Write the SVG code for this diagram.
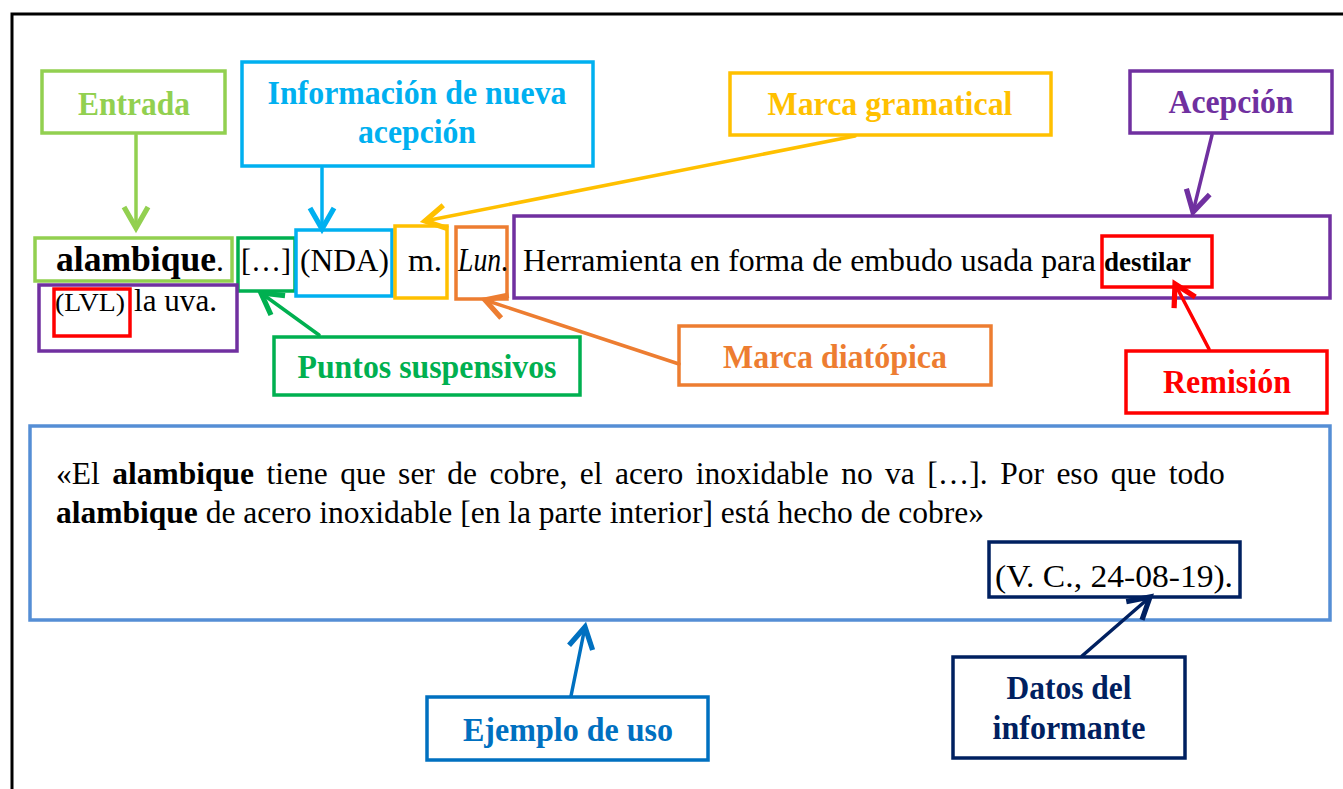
<svg xmlns="http://www.w3.org/2000/svg" width="1343" height="789" viewBox="0 0 1343 789">
<style>
.box{fill:none;stroke-width:3.5}
.lbl{font-family:"Liberation Serif","Times New Roman",serif;font-weight:bold;font-size:34px;text-anchor:middle}
.t{font-family:"Liberation Serif","Times New Roman",serif;fill:#000}
.con{fill:none;stroke-width:3.5;stroke-linecap:round}
</style>
<defs>
<marker id="mG" markerUnits="userSpaceOnUse" markerWidth="30" markerHeight="30" refX="16" refY="10" orient="auto" viewBox="0 0 20 20"><path d="M2,2 L16,10 L2,18" fill="none" stroke="#92D050" stroke-width="3.5"/></marker>
<marker id="mB" markerUnits="userSpaceOnUse" markerWidth="30" markerHeight="30" refX="16" refY="10" orient="auto" viewBox="0 0 20 20"><path d="M2,2 L16,10 L2,18" fill="none" stroke="#00B0F0" stroke-width="3.5"/></marker>
<marker id="mY" markerUnits="userSpaceOnUse" markerWidth="30" markerHeight="30" refX="16" refY="10" orient="auto" viewBox="0 0 20 20"><path d="M2,2 L16,10 L2,18" fill="none" stroke="#FFC000" stroke-width="3.5"/></marker>
<marker id="mP" markerUnits="userSpaceOnUse" markerWidth="30" markerHeight="30" refX="16" refY="10" orient="auto" viewBox="0 0 20 20"><path d="M2,2 L16,10 L2,18" fill="none" stroke="#7030A0" stroke-width="3.5"/></marker>
<marker id="mDG" markerUnits="userSpaceOnUse" markerWidth="30" markerHeight="30" refX="16" refY="10" orient="auto" viewBox="0 0 20 20"><path d="M2,2 L16,10 L2,18" fill="none" stroke="#00B050" stroke-width="3.5"/></marker>
<marker id="mO" markerUnits="userSpaceOnUse" markerWidth="30" markerHeight="30" refX="16" refY="10" orient="auto" viewBox="0 0 20 20"><path d="M2,2 L16,10 L2,18" fill="none" stroke="#ED7D31" stroke-width="3.5"/></marker>
<marker id="mR" markerUnits="userSpaceOnUse" markerWidth="30" markerHeight="30" refX="16" refY="10" orient="auto" viewBox="0 0 20 20"><path d="M2,2 L16,10 L2,18" fill="none" stroke="#FF0000" stroke-width="3.5"/></marker>
<marker id="mE" markerUnits="userSpaceOnUse" markerWidth="30" markerHeight="30" refX="16" refY="10" orient="auto" viewBox="0 0 20 20"><path d="M2,2 L16,10 L2,18" fill="none" stroke="#0070C0" stroke-width="3.5"/></marker>
<marker id="mN" markerUnits="userSpaceOnUse" markerWidth="30" markerHeight="30" refX="16" refY="10" orient="auto" viewBox="0 0 20 20"><path d="M2,2 L16,10 L2,18" fill="none" stroke="#002060" stroke-width="3.5"/></marker>
</defs>
<rect width="1343" height="789" fill="#fff"/>
<path d="M12,789 V14 H1343" fill="none" stroke="#000" stroke-width="3"/>

<g id="entry-text">
<rect class="box" x="35" y="238" width="197" height="43" stroke="#92D050"/>
<rect class="box" x="238" y="238" width="57" height="53" stroke="#00B050"/>
<rect class="box" x="296" y="230" width="96" height="66" stroke="#00B0F0"/>
<rect class="box" x="395" y="226" width="52" height="72" stroke="#FFC000"/>
<rect class="box" x="456" y="227" width="51" height="72" stroke="#ED7D31"/>
<rect class="box" x="514" y="216" width="816" height="82" stroke="#7030A0"/>
<rect class="box" x="1102" y="236" width="110" height="51" stroke="#FF0000"/>
<rect class="box" x="39" y="285" width="198" height="66" stroke="#7030A0"/>
<rect class="box" x="54" y="289" width="76" height="47" stroke="#FF0000"/>
<text class="t" x="56" y="271" font-size="36" textLength="168" lengthAdjust="spacingAndGlyphs"><tspan font-weight="bold">alambique</tspan><tspan font-size="32">.</tspan></text>
<text class="t" x="241" y="271" font-size="32" textLength="50" lengthAdjust="spacingAndGlyphs">[…]</text>
<text class="t" x="300" y="271" font-size="32" textLength="89" lengthAdjust="spacingAndGlyphs">(NDA)</text>
<text class="t" x="408" y="271" font-size="32" textLength="34" lengthAdjust="spacingAndGlyphs">m.</text>
<text class="t" x="458" y="271" font-size="34" textLength="50" lengthAdjust="spacingAndGlyphs"><tspan font-style="italic">Lun</tspan>.</text>
<text class="t" x="523" y="271" font-size="32" textLength="573" lengthAdjust="spacingAndGlyphs">Herramienta en forma de embudo usada para</text>
<text class="t" x="1104" y="271" font-size="27" font-weight="bold" textLength="87" lengthAdjust="spacingAndGlyphs">destilar</text>
<text class="t" x="55" y="311" font-size="25" textLength="70" lengthAdjust="spacingAndGlyphs">(LVL)</text>
<text class="t" x="134" y="311" font-size="31" textLength="83" lengthAdjust="spacingAndGlyphs">la uva.</text>
</g>

<g id="example">
<rect class="box" x="30" y="426" width="1300" height="194" stroke="#558ED5"/>
<text class="t" x="56" y="484" font-size="31.5" word-spacing="4.6"><tspan>«El </tspan><tspan font-weight="bold">alambique</tspan><tspan> tiene que ser de cobre, el acero inoxidable no va […]. Por eso que todo</tspan></text>
<text class="t" x="56" y="523" font-size="31.5"><tspan font-weight="bold">alambique</tspan><tspan> de acero inoxidable [en la parte interior] está hecho de cobre»</tspan></text>
</g>

<g id="datos-ref">
<rect class="box" x="989" y="542" width="251" height="55" stroke="#002060"/>
<text class="t" x="995" y="587" font-size="32" textLength="238" lengthAdjust="spacingAndGlyphs">(V. C., 24-08-19).</text>
</g>

<g id="entrada">
<rect class="box" x="42" y="71" width="183" height="62" stroke="#92D050"/>
<text class="lbl" x="134" y="115" fill="#92D050" textLength="112" lengthAdjust="spacingAndGlyphs">Entrada</text>
</g>
<g id="informacion">
<rect class="box" x="242" y="62" width="351" height="104" stroke="#00B0F0"/>
<text class="lbl" x="417" y="104" fill="#00B0F0" textLength="299" lengthAdjust="spacingAndGlyphs">Información de nueva</text>
<text class="lbl" x="417" y="143" fill="#00B0F0" textLength="118" lengthAdjust="spacingAndGlyphs">acepción</text>
</g>
<g id="marca-gramatical">
<rect class="box" x="730" y="73" width="321" height="62" stroke="#FFC000"/>
<text class="lbl" x="890" y="115" fill="#FFC000" textLength="245" lengthAdjust="spacingAndGlyphs">Marca gramatical</text>
</g>
<g id="acepcion">
<rect class="box" x="1130" y="71" width="202" height="62" stroke="#7030A0"/>
<text class="lbl" x="1231" y="113" fill="#7030A0" textLength="125" lengthAdjust="spacingAndGlyphs">Acepción</text>
</g>
<g id="puntos">
<rect class="box" x="274" y="337" width="306" height="58" stroke="#00B050"/>
<text class="lbl" x="427" y="378" fill="#00B050" textLength="259" lengthAdjust="spacingAndGlyphs">Puntos suspensivos</text>
</g>
<g id="marca-diatopica">
<rect class="box" x="679" y="326" width="312" height="59" stroke="#ED7D31"/>
<text class="lbl" x="835" y="368" fill="#ED7D31" textLength="224" lengthAdjust="spacingAndGlyphs">Marca diatópica</text>
</g>
<g id="remision">
<rect class="box" x="1126" y="351" width="201" height="62" stroke="#FF0000"/>
<text class="lbl" x="1227" y="393" fill="#FF0000" textLength="128" lengthAdjust="spacingAndGlyphs">Remisión</text>
</g>
<g id="ejemplo">
<rect class="box" x="427" y="697" width="281" height="63" stroke="#0070C0"/>
<text class="lbl" x="568" y="741" fill="#0070C0" textLength="210" lengthAdjust="spacingAndGlyphs">Ejemplo de uso</text>
</g>
<g id="datos">
<rect class="box" x="953" y="657" width="232" height="101" stroke="#002060"/>
<text class="lbl" x="1069" y="699" fill="#002060" textLength="125" lengthAdjust="spacingAndGlyphs">Datos del</text>
<text class="lbl" x="1069" y="739" fill="#002060" textLength="153" lengthAdjust="spacingAndGlyphs">informante</text>
</g>

<g id="connectors">
<line class="con" x1="136" y1="135" x2="136" y2="228" stroke="#92D050" marker-end="url(#mG)"/>
<line class="con" x1="322" y1="168" x2="322" y2="229" stroke="#00B0F0" marker-end="url(#mB)"/>
<line class="con" x1="855" y1="136" x2="425" y2="221" stroke="#FFC000" marker-end="url(#mY)"/>
<line class="con" x1="1212" y1="135" x2="1193" y2="212" stroke="#7030A0" marker-end="url(#mP)"/>
<line class="con" x1="319" y1="335" x2="261" y2="293" stroke="#00B050" marker-end="url(#mDG)"/>
<line class="con" x1="679" y1="364" x2="485" y2="300" stroke="#ED7D31" marker-end="url(#mO)"/>
<line class="con" x1="1209" y1="349" x2="1175" y2="284" stroke="#FF0000" marker-end="url(#mR)"/>
<line class="con" x1="571" y1="696" x2="585" y2="627" stroke="#0070C0" marker-end="url(#mE)"/>
<line class="con" x1="1082" y1="656" x2="1150" y2="597" stroke="#002060" marker-end="url(#mN)"/>
</g>
</svg>
